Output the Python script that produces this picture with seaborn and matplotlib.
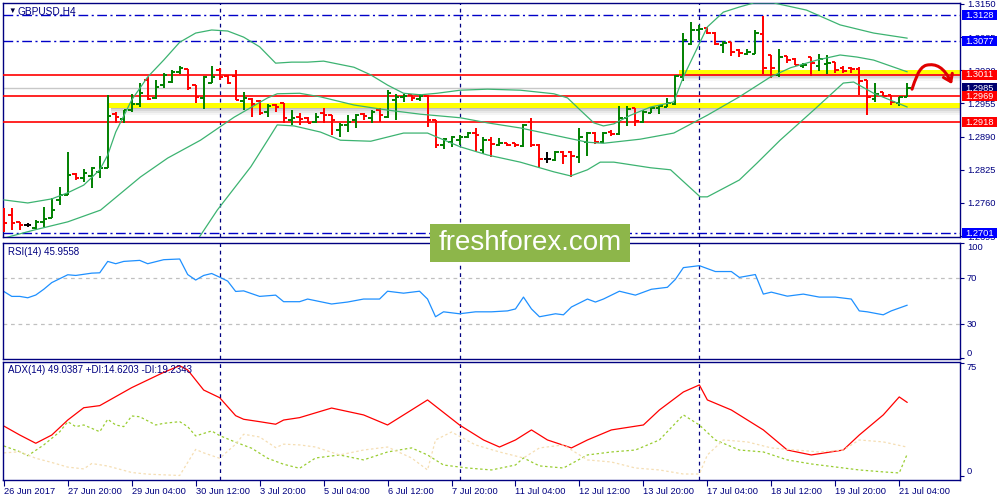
import matplotlib
matplotlib.use("Agg")
import matplotlib.pyplot as plt
import matplotlib.transforms as mtransforms
from matplotlib.patches import Rectangle, FancyArrowPatch
from matplotlib.path import Path
import numpy as np
import pandas as pd
import seaborn as sns

sns.set_theme(style="white")
plt.rcParams["font.family"] = ["Liberation Sans", "DejaVu Sans"]

NAVY = "#000080"

# ---- GBPUSD H4 bars (26 Jun 12:00 .. 21 Jul 08:00) ----
opens = [
    1.2740, 1.2736, 1.2723, 1.2717, 1.2711, 1.2723, 1.2730, 1.2766, 1.2776, 1.2817,
    1.2809, 1.2813, 1.2821, 1.2829, 1.2934, 1.2925, 1.2942, 1.2954, 1.3001, 1.2966,
    1.2991, 1.2997, 1.3017, 1.3023, 1.2991, 1.2966, 1.2995, 1.3021, 1.3009, 1.3009,
    1.2960, 1.2964, 1.2960, 1.2938, 1.2952, 1.2956, 1.2923, 1.2928, 1.2927, 1.2919,
    1.2936, 1.2932, 1.2903, 1.2913, 1.2923, 1.2934, 1.2927, 1.2942, 1.2928, 1.2962,
    1.2968, 1.2972, 1.2964, 1.2970, 1.2923, 1.2874, 1.2879, 1.2883, 1.2889, 1.2897,
    1.2864, 1.2883, 1.2874, 1.2877, 1.2877, 1.2872, 1.2919, 1.2874, 1.2846, 1.2844,
    1.2860, 1.2860, 1.2850, 1.2879, 1.2897, 1.2879, 1.2899, 1.2895, 1.2927, 1.2946,
    1.2919, 1.2936, 1.2946, 1.2948, 1.2954, 1.3007, 1.3072, 1.3099, 1.3103, 1.3093,
    1.3070, 1.3075, 1.3060, 1.3052, 1.3052, 1.3091, 1.3050, 1.3011, 1.3048, 1.3042,
    1.3028, 1.3046, 1.3028, 1.3032, 1.3036, 1.3025, 1.3025, 1.3023, 1.3001, 1.2964,
    1.2977, 1.2972, 1.2956, 1.2968]
highs = [
    1.2750, 1.2750, 1.2723, 1.2721, 1.2727, 1.2752, 1.2770, 1.2791, 1.2860, 1.2819,
    1.2827, 1.2831, 1.2852, 1.2972, 1.2938, 1.2942, 1.2974, 1.2995, 1.3007, 1.3001,
    1.3015, 1.3021, 1.3028, 1.3023, 1.2991, 1.3009, 1.3028, 1.3025, 1.3011, 1.3021,
    1.2977, 1.2966, 1.2962, 1.2954, 1.2954, 1.2956, 1.2942, 1.2936, 1.2928, 1.2936,
    1.2946, 1.2932, 1.2917, 1.2932, 1.2934, 1.2936, 1.2942, 1.2946, 1.2981, 1.2974,
    1.2974, 1.2972, 1.2974, 1.2972, 1.2923, 1.2887, 1.2891, 1.2893, 1.2899, 1.2907,
    1.2889, 1.2889, 1.2887, 1.2877, 1.2877, 1.2915, 1.2927, 1.2876, 1.2860, 1.2862,
    1.2862, 1.2862, 1.2907, 1.2899, 1.2899, 1.2899, 1.2903, 1.2950, 1.2950, 1.2946,
    1.2942, 1.2948, 1.2952, 1.2966, 1.3011, 1.3093, 1.3115, 1.3109, 1.3105, 1.3095,
    1.3077, 1.3075, 1.3062, 1.3062, 1.3099, 1.3126, 1.3050, 1.3062, 1.3048, 1.3044,
    1.3034, 1.3046, 1.3052, 1.3050, 1.3036, 1.3028, 1.3026, 1.3026, 1.3001, 1.2995,
    1.2977, 1.2972, 1.2968, 1.2995]
lows = [
    1.2703, 1.2707, 1.2707, 1.2713, 1.2709, 1.2713, 1.2730, 1.2756, 1.2776, 1.2805,
    1.2801, 1.2789, 1.2809, 1.2829, 1.2917, 1.2917, 1.2938, 1.2948, 1.2962, 1.2964,
    1.2985, 1.2995, 1.3013, 1.2981, 1.2956, 1.2944, 1.2995, 1.3001, 1.2993, 1.2962,
    1.2942, 1.2928, 1.2932, 1.2928, 1.2938, 1.2917, 1.2913, 1.2913, 1.2917, 1.2917,
    1.2917, 1.2893, 1.2889, 1.2899, 1.2907, 1.2923, 1.2917, 1.2919, 1.2927, 1.2923,
    1.2958, 1.2960, 1.2960, 1.2909, 1.2868, 1.2866, 1.2870, 1.2874, 1.2887, 1.2860,
    1.2856, 1.2850, 1.2872, 1.2872, 1.2870, 1.2870, 1.2870, 1.2829, 1.2838, 1.2842,
    1.2836, 1.2811, 1.2838, 1.2852, 1.2876, 1.2877, 1.2891, 1.2893, 1.2911, 1.2911,
    1.2917, 1.2936, 1.2934, 1.2948, 1.2952, 1.2999, 1.3070, 1.3079, 1.3091, 1.3070,
    1.3054, 1.3048, 1.3046, 1.3050, 1.3052, 1.3013, 1.3005, 1.3007, 1.3034, 1.3030,
    1.3025, 1.3009, 1.3019, 1.3013, 1.3015, 1.3015, 1.3015, 1.2972, 1.2932, 1.2958,
    1.2968, 1.2952, 1.2950, 1.2968]
closes = [
    1.2721, 1.2721, 1.2717, 1.2717, 1.2723, 1.2729, 1.2746, 1.2776, 1.2815, 1.2809,
    1.2819, 1.2829, 1.2829, 1.2930, 1.2928, 1.2942, 1.2954, 1.2975, 1.2964, 1.2987,
    1.3011, 1.3017, 1.3025, 1.2985, 1.2968, 1.3007, 1.3007, 1.3007, 1.2995, 1.2962,
    1.2966, 1.2954, 1.2936, 1.2950, 1.2948, 1.2927, 1.2927, 1.2925, 1.2917, 1.2928,
    1.2932, 1.2923, 1.2913, 1.2919, 1.2932, 1.2930, 1.2938, 1.2932, 1.2975, 1.2968,
    1.2970, 1.2966, 1.2970, 1.2923, 1.2874, 1.2885, 1.2889, 1.2889, 1.2897, 1.2893,
    1.2883, 1.2876, 1.2877, 1.2874, 1.2874, 1.2913, 1.2874, 1.2846, 1.2846, 1.2860,
    1.2852, 1.2852, 1.2889, 1.2897, 1.2879, 1.2897, 1.2895, 1.2927, 1.2944, 1.2921,
    1.2938, 1.2946, 1.2950, 1.2956, 1.3009, 1.3079, 1.3099, 1.3101, 1.3093, 1.3072,
    1.3073, 1.3056, 1.3054, 1.3056, 1.3093, 1.3025, 1.3025, 1.3046, 1.3040, 1.3030,
    1.3030, 1.3034, 1.3042, 1.3034, 1.3021, 1.3019, 1.3023, 1.2999, 1.2968, 1.2974,
    1.2970, 1.2958, 1.2968, 1.2985]

# Bollinger bands (bar index, price)
bb_up_bar = [0, 3, 6, 8, 10, 12, 13, 14, 16, 18, 20, 22, 24, 26, 28, 30, 32, 34, 36, 38, 40,
             43.8, 45.9, 48, 50, 52.1, 54.2, 57.1, 60.5, 64.6, 68.8, 70.5, 72.1, 73.8, 75,
             76.3, 78.4, 80.9, 83.8, 85, 88, 90, 92, 93.8, 96.3, 100.4, 104.6, 108.8, 113]
bb_up = [1.2766, 1.2760, 1.2768, 1.2780, 1.2795, 1.2825, 1.2854, 1.2899, 1.2962, 1.3007,
         1.3040, 1.3075, 1.3093, 1.3099, 1.3097, 1.3085, 1.3066, 1.3034, 1.3036, 1.3036,
         1.3038, 1.3026, 1.3011, 1.2991, 1.2975, 1.2972, 1.2975, 1.2981, 1.2983, 1.2981,
         1.2974, 1.2966, 1.2942, 1.2917, 1.2911, 1.2915, 1.2932, 1.2948, 1.2958, 1.3007,
         1.3105, 1.3134, 1.3144, 1.3152, 1.3152, 1.3138, 1.3109, 1.3093, 1.3083]
bb_mid_bar = [0, 3.8, 8, 12.1, 17.1, 20.5, 24.6, 28.8, 33, 34.2, 37, 39.6, 43.8, 48, 52.1,
              57.1, 60.5, 64.6, 68.8, 73, 75, 79.6, 83.8, 88, 92, 95.9, 98.4, 101.7, 104.6,
              106.7, 108.8, 113]
bb_mid = [1.2691, 1.2707, 1.2723, 1.2746, 1.2811, 1.2848, 1.2883, 1.2928, 1.2966, 1.2974,
          1.2975, 1.2968, 1.2952, 1.2942, 1.2934, 1.2927, 1.2917, 1.2907, 1.2893, 1.2879,
          1.2877, 1.2885, 1.2897, 1.2932, 1.2968, 1.3007, 1.3025, 1.3040, 1.3050, 1.3046,
          1.3040, 1.3017]
bb_lo_bar = [24.2, 26.7, 30.9, 33, 34.2, 36.3, 39.6, 42.1, 45.9, 50, 53, 54.2, 57.1, 60.5,
             64.6, 68.8, 70.9, 73, 74.6, 76.3, 80.9, 83.4, 87.1, 88, 92, 94.2, 97.1, 101.3,
             105, 106.3, 108.8, 113]
bb_lo = [1.2687, 1.2746, 1.2831, 1.2883, 1.2913, 1.2911, 1.2899, 1.2883, 1.2881, 1.2897,
         1.2897, 1.2889, 1.2870, 1.2854, 1.2840, 1.2821, 1.2813, 1.2825, 1.2840, 1.2840,
         1.2829, 1.2825, 1.2772, 1.2772, 1.2805, 1.2838, 1.2883, 1.2942, 1.2995, 1.2997,
         1.2975, 1.2948]

# RSI(14)
rsi_bar = [0, 1, 2, 3, 4, 5, 6, 8, 9, 11, 12, 13, 14, 15, 17, 18, 20, 22, 23, 24, 25, 26,
           27, 28, 29, 30, 32, 34, 35, 37, 38, 41, 43, 45, 47, 48, 50, 52, 53, 54, 55, 57,
           59, 61, 63, 64, 65, 66, 67, 69, 70, 71, 73, 74, 75, 77, 79, 81, 83, 84, 85, 87,
           89, 91, 92, 94, 95, 96, 98, 100, 102, 104, 106, 107, 108, 110, 111, 113]
rsi_val = [57.9, 53.6, 53.6, 52.4, 54.8, 59.8, 65.6, 72.4, 71.8, 73.8, 74.1, 84.0, 82.0,
           84.0, 84.9, 82.0, 85.5, 86.1, 72.6, 67.8, 71.8, 73.5, 70.3, 66.9, 57.9, 58.4,
           53.6, 54.7, 49.0, 49.0, 51.3, 47.0, 48.7, 51.3, 51.3, 58.1, 56.4, 58.1, 51.3,
           35.9, 40.2, 38.5, 40.2, 40.2, 41.0, 42.7, 53.0, 42.7, 35.9, 38.5, 37.6, 44.4,
           51.3, 48.7, 51.3, 58.1, 54.7, 59.8, 61.5, 68.4, 78.6, 80.3, 75.2, 75.2, 70.1,
           72.6, 55.6, 57.3, 53.8, 55.6, 53.0, 53.0, 51.3, 41.0, 40.2, 37.6, 41.0, 45.96]

# ADX(14), +DI, -DI
adx_bar = [0, 2, 4, 6, 8, 10, 12, 14, 16, 18, 20, 22, 23, 25, 27, 29, 30, 32, 34, 35, 37,
           41, 45, 48, 51, 53, 57, 60, 62, 64, 66, 68, 71, 73, 76, 80, 82, 85, 87, 88, 91,
           95, 98, 101, 105, 107, 110, 112, 113]
adx_val = [33.3, 27.3, 21.8, 27.3, 37.3, 45.5, 46.9, 52.9, 58.9, 64.0, 69.1, 73.5, 70.7,
           57.3, 52.2, 40.2, 37.8, 36.2, 34.5, 37.3, 38.9, 45.3, 40.7, 34.0, 44.0, 50.7,
           34.0, 24.0, 19.3, 24.0, 30.7, 24.0, 18.7, 24.0, 30.7, 34.0, 44.0, 56.0, 60.7,
           50.7, 44.0, 30.7, 17.3, 14.0, 17.3, 27.3, 40.7, 52.7, 49.04]
pdi_bar = [0, 2, 3, 5, 7, 8, 9, 10, 12, 13, 14, 15, 16, 17, 19, 20, 22, 23, 24, 26, 27,
           29, 31, 33, 35, 37, 39, 42, 45, 48, 51, 53, 55, 58, 61, 64, 65, 67, 70, 73, 76,
           79, 82, 85, 87, 89, 92, 95, 98, 101, 104, 107, 110, 112, 113]
pdi_val = [20.0, 16.2, 13.5, 20.7, 29.5, 36.2, 32.9, 34.0, 29.5, 37.8, 34.0, 32.9, 40.0,
           39.5, 34.0, 35.1, 36.2, 32.9, 26.7, 30.0, 26.9, 22.5, 18.5, 11.8, 7.8, 5.1, 12.0,
           14.0, 10.7, 16.0, 18.7, 14.0, 7.3, 5.3, 4.0, 7.3, 12.0, 6.7, 5.3, 14.0, 16.0,
           17.3, 24.0, 40.7, 34.0, 24.0, 17.3, 16.0, 10.7, 8.0, 6.0, 4.0, 2.7, 2.0, 14.62]
mdi_bar = [0, 2, 4, 6, 8, 10, 11, 13, 16, 18, 22, 24, 25, 27, 29, 30, 32, 34, 35, 37, 39,
           42, 45, 48, 51, 53, 54, 56, 59, 62, 65, 67, 70, 73, 76, 79, 82, 85, 87, 88, 90,
           93, 96, 99, 102, 105, 107, 110, 113]
mdi_val = [15.4, 16.1, 11.8, 9.0, 5.9, 4.7, 8.3, 6.6, 2.3, 1.2, 0.3, 17.7, 15.4, 11.8,
           21.2, 27.8, 26.0, 18.9, 21.2, 20.7, 19.3, 14.0, 17.3, 19.3, 12.0, 4.0, 24.0,
           29.3, 20.7, 16.0, 12.0, 18.7, 20.7, 10.7, 9.3, 5.3, 4.0, 1.3, 1.3, 14.0, 24.0,
           22.7, 18.7, 17.3, 16.0, 17.3, 24.0, 22.7, 19.23]

# horizontal levels
red_levels = [1.3011, 1.2969, 1.2918]
blue_levels = [1.3128, 1.3077, 1.2701]
bid_level = 1.2985
zone_low = (1.2947, 1.2956)     # yellow zone from 27 Jun 20:00
zone_high = (1.3012, 1.3020)    # yellow zone from 13 Jul 20:00
zone_start = [13, 84.5]
price_ticks = [1.3150, 1.3085, 1.3020, 1.2955, 1.2890, 1.2825, 1.2760, 1.2695]
week_bars = [27, 57, 87]
xtick_labels = ["26 Jun 2017", "27 Jun 20:00", "29 Jun 04:00", "30 Jun 12:00",
                "3 Jul 20:00", "5 Jul 04:00", "6 Jul 12:00", "7 Jul 20:00",
                "11 Jul 04:00", "12 Jul 12:00", "13 Jul 20:00", "17 Jul 04:00",
                "18 Jul 12:00", "19 Jul 20:00", "21 Jul 04:00"]

df = pd.DataFrame({"open": opens, "high": highs, "low": lows, "close": closes})
df["bar"] = np.arange(len(df))
df["color"] = np.where(df.close > df.open, "#008000",
                       np.where(df.close < df.open, "#ff0000", "#000000"))

XMAX = 119.6
fig = plt.figure(figsize=(10, 5), dpi=100)
ax_p = fig.add_axes([0.003, 1 - 237 / 500, 0.957, 234 / 500])
ax_r = fig.add_axes([0.003, 1 - 359 / 500, 0.957, 116 / 500])
ax_a = fig.add_axes([0.003, 1 - 480 / 500, 0.957, 118 / 500])

for ax in (ax_p, ax_r, ax_a):
    ax.set_facecolor("white")
    ax.set_xlim(-0.1, XMAX)
    for s in ax.spines.values():
        s.set_color(NAVY)
        s.set_linewidth(1.0)
    ax.yaxis.tick_right()
    ax.tick_params(axis="y", length=3, width=0.8, color=NAVY, labelcolor=NAVY,
                   labelsize=6.7, pad=2, direction="out", right=True, left=False)
    for b in week_bars:
        ax.axvline(b, color=NAVY, lw=0.9, ls=(0, (3, 3)), zorder=1)
    ax.set_xlabel("")
    ax.set_ylabel("")

# ---- price panel ----
ax_p.set_ylim(1.26933, 1.31519)
ax_p.set_xticks([])
ax_p.set_yticks(price_ticks)
ax_p.set_yticklabels([f"{t:.4f}" for t in price_ticks])

for lv in blue_levels:
    ax_p.axhline(lv, color="#0000c8", lw=1.0, ls=(0, (7, 2.5, 1.5, 2.5)), zorder=1)
ax_p.axhline(bid_level, color="#c8c8c8", lw=1.0, zorder=1)

# highlighter zones with a soft drop shadow
for (lo, hi), x0 in zip([zone_low, zone_high], zone_start):
    h = hi - lo
    for k, a in enumerate([0.40, 0.25, 0.14, 0.06]):
        ax_p.fill_between([x0 + 0.4, XMAX], lo - h * 0.4 * (k + 1), lo - h * 0.4 * k,
                          color="#606060", alpha=a, lw=0, zorder=2)
    ax_p.fill_between([x0, XMAX], lo, hi, color="#ffff00", lw=0, zorder=2.5)

for lv in red_levels:
    ax_p.axhline(lv, color="#ff0000", lw=1.2, zorder=3)

for col, grp in df.groupby("color"):
    ax_p.vlines(grp.bar, grp.low, grp.high, colors=col, lw=1.4, zorder=4)
    ax_p.hlines(grp.open, grp.bar - 0.42, grp.bar, colors=col, lw=1.4, zorder=4)
    ax_p.hlines(grp.close, grp.bar, grp.bar + 0.42, colors=col, lw=1.4, zorder=4)

for bx, by in [(bb_up_bar, bb_up), (bb_mid_bar, bb_mid), (bb_lo_bar, bb_lo)]:
    sns.lineplot(x=bx, y=by, ax=ax_p, color="#3cb371", lw=0.9, zorder=5)
ax_p.set_ylim(1.26933, 1.31519)
ax_p.set_xlim(-0.1, XMAX)

# red hand-drawn arrow (up, over, and down)
verts = [(113.6, 1.2983), (114.0, 1.3000), (114.4, 1.3026), (115.4, 1.3030),
         (116.6, 1.3034), (117.6, 1.3026), (118.6, 1.2993)]
codes = [Path.MOVETO, Path.CURVE4, Path.CURVE4, Path.CURVE4,
         Path.CURVE4, Path.CURVE4, Path.CURVE4]
ax_p.add_patch(FancyArrowPatch(path=Path(verts, codes),
                               arrowstyle="->,head_length=5,head_width=3.5",
                               color="#e00000", lw=2.2, zorder=8))

ax_p.text(5 / 957, 1 - 8 / 234, "\u25bc", transform=ax_p.transAxes, fontsize=5.5,
          color="#000040", va="center", ha="left")
ax_p.text(15 / 957, 1 - 8 / 234, "GBPUSD,H4", transform=ax_p.transAxes, fontsize=7.3,
          color=NAVY, va="center", ha="left")

# price tags on the right scale
trans = mtransforms.blended_transform_factory(ax_p.transAxes, ax_p.transData)
tags = [(1.3128, "#0000ff"), (1.3077, "#0000ff"), (1.3011, "#ff0000"),
        (1.2985, "#00006e"), (1.2969, "#ff0000"), (1.2918, "#ff0000"), (1.2701, "#0000ff")]
for val, fc in tags:
    ax_p.add_patch(Rectangle((1.0016, val - 0.00098), 0.0372, 0.00196, transform=trans,
                             fc=fc, ec="none", clip_on=False, zorder=10))
    ax_p.text(1.0202, val, f"{val:.4f}", transform=trans, ha="center", va="center",
              color="white", fontsize=6.7, zorder=11, clip_on=False)

# ---- RSI panel ----
sns.lineplot(x=rsi_bar, y=rsi_val, ax=ax_r, color="#1e90ff", lw=0.9)
for lv in (70, 30):
    ax_r.axhline(lv, color="#c0c0c0", lw=0.9, ls=(0, (3, 3)), zorder=1)
ax_r.set_ylim(-0.8, 100)
ax_r.set_xlim(-0.1, XMAX)
ax_r.set_xticks([])
ax_r.set_yticks([0, 30, 70, 100])
ax_r.set_yticklabels(["0", "30", "70", "100"])
rl = ax_r.get_yticklabels()
rl[0].set_va("bottom")
rl[-1].set_va("top")
ax_r.text(5 / 957, 1 - 9 / 116, "RSI(14) 45.9558", transform=ax_r.transAxes,
          fontsize=7, color=NAVY, va="center", ha="left")

# ---- ADX panel ----
sns.lineplot(x=adx_bar, y=adx_val, ax=ax_a, color="#ff0000", lw=0.9)
sns.lineplot(x=pdi_bar, y=pdi_val, ax=ax_a, color="#9acd32", lw=0.9, linestyle=(0, (2, 2)))
sns.lineplot(x=mdi_bar, y=mdi_val, ax=ax_a, color="#f5deb3", lw=0.9, linestyle=(0, (2, 2)))
ax_a.set_ylim(-2.7, 76)
ax_a.set_xlim(-0.1, XMAX)
ax_a.set_yticks([0, 75])
ax_a.set_yticklabels(["0", "75"])
al = ax_a.get_yticklabels()
al[0].set_va("bottom")
al[-1].set_va("top")
ax_a.set_xticks(np.arange(0, 8 * len(xtick_labels), 8))
ax_a.set_xticklabels(xtick_labels, ha="left")
ax_a.tick_params(axis="x", length=4, width=0.8, color=NAVY, labelcolor=NAVY,
                 labelsize=6.7, pad=1, bottom=True, direction="out")
ax_a.text(5 / 957, 1 - 8 / 118, "ADX(14) 49.0387 +DI:14.6203 -DI:19.2343",
          transform=ax_a.transAxes, fontsize=7, color=NAVY, va="center", ha="left")

# watermark
fig.patches.append(Rectangle((0.43, 1 - 262 / 500), 0.2, 38 / 500, transform=fig.transFigure,
                             fc="#8db64a", ec="none", zorder=20))
fig.text(0.53, 1 - 243 / 500, "freshforex.com", color="white", fontsize=20,
         ha="center", va="center", zorder=21)

fig.savefig("out.png", dpi=100)
